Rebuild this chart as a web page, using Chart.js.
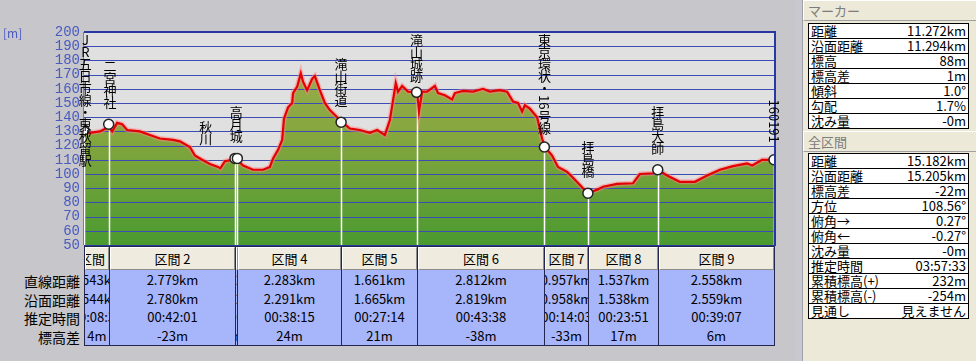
<!DOCTYPE html>
<html lang="ja">
<head>
<meta charset="utf-8">
<title>標高断面図</title>
<script src="https://cdn.jsdelivr.net/npm/chart.js@4.4.1/dist/chart.umd.min.js"></script>
<style>
  body { margin: 0; width: 976px; height: 361px; overflow: hidden; position: relative;
         background: #c6c6cb; font-family: "Noto Sans CJK JP", sans-serif; color: #000; }
  #profile { position: absolute; left: 0; top: 0; }
  #unit { position: absolute; left: 3px; top: 24px; font-size: 12px; color: #4a5abf; }
  #table { position: absolute; left: 84px; top: 246px; width: 691px; height: 100px; background: #23264f; }
  .hd, .cell { position: absolute; box-sizing: border-box; overflow: hidden; white-space: nowrap; }
  .hd { top: 1px; height: 23px; background: #efebdf; border-top: 1px solid #fff; border-left: 1px solid #fff;
        border-right: 1px solid #8c8c8c; border-bottom: 1px solid #8c8c8c; font-size: 13px; line-height: 21px;
        display: flex; justify-content: center; }
  .cell { top: 24px; height: 75px; background: #a7b5fa; font-size: 13px; padding-top: 1px; }
  .cell div { height: 18.5px; line-height: 18.5px; display: flex; justify-content: center; white-space: nowrap; }
  .rowname { position: absolute; right: 896px; font-size: 14px; height: 18px; line-height: 18px; white-space: nowrap; }
  #side { position: absolute; left: 795px; top: 0; width: 181px; height: 361px; background: #ece9d8; }
  #strip { position: absolute; left: 0; top: 0; width: 7px; height: 361px; background: #c8c8d0; border-right: 1px solid #a0a0a8; }
  .ptitle { position: absolute; left: 8px; width: 173px; height: 21px; box-sizing: border-box; padding-left: 4px;
            border-top: 1px solid #fff; border-left: 1px solid #fff; border-bottom: 1px solid #a0a0a0;
            color: #7c7c7c; font-size: 13px; line-height: 19px; }
  .pbox { position: absolute; left: 13px; width: 161px; background: #fff; border: 1px solid #000; border-bottom: 0; box-sizing: border-box; }
  .prow { height: 15px; line-height: 14px; font-size: 13px; display: flex; justify-content: space-between;
          padding: 0 2px 0 2px; border-bottom: 1px solid #000; box-sizing: border-box; white-space: nowrap; }
</style>
</head>
<body>
<canvas id="profile" width="795" height="260"></canvas>
<div id="unit">[m]</div>
<div id="table"></div>
<div id="rows"></div>
<div id="side"><div id="strip"></div></div>
<script>
// elevation profile (km along route, metres)
const distKm = [0, 0.13, 0.35, 0.48, 0.55, 0.62, 0.73, 0.84, 0.95, 1.23,
  1.45, 1.67, 1.96, 2.11, 2.33, 2.44, 2.60, 2.77, 2.95, 3.00,
  3.10, 3.26, 3.37, 3.50, 3.72, 3.94, 4.09, 4.16, 4.27, 4.36,
  4.40, 4.49, 4.58, 4.60, 4.69, 4.77, 4.82, 4.91, 5.02, 5.08,
  5.19, 5.30, 5.41, 5.57, 5.70, 5.85, 6.07, 6.29, 6.45, 6.62,
  6.73, 6.80, 6.86, 6.91, 7.00, 7.13, 7.33, 7.37, 7.44, 7.55,
  7.72, 7.79, 7.94, 8.10, 8.16, 8.34, 8.56, 8.78, 8.93, 9.15,
  9.31, 9.44, 9.55, 9.64, 9.70, 9.81, 9.97, 10.08, 10.14, 10.30,
  10.43, 10.63, 10.74, 10.98, 11.09, 11.29, 11.42, 11.73, 12.08, 12.23,
  12.52, 12.63, 12.83, 13.11, 13.44, 13.71, 13.99, 14.28, 14.59, 14.70,
  14.92, 15.05, 15.18];
const elevM = [129, 129, 130, 132, 133, 130, 136, 135, 131, 130,
  127.5, 125, 124, 123, 119, 113, 110, 107, 105, 104,
  109, 110, 110, 106, 103, 103, 105, 111, 117, 124,
  139, 147, 150, 157, 161.5, 171, 165, 159, 167, 169,
  159, 150, 145, 140, 136, 132, 131, 129, 131, 127.5,
  138, 152, 164, 158, 162, 158, 157.5, 144, 158, 158,
  162, 157, 155.5, 152.5, 157, 158.5, 158, 160, 158, 159,
  158, 151, 150, 144, 148.5, 146, 140, 125, 119, 113,
  105, 101.5, 98, 90, 86.5, 89, 91, 93, 93.5, 100,
  100.5, 103, 99, 94.5, 94.5, 99, 103, 105.5, 107.5, 106,
  110, 110, 110];

// waypoint markers
const markerKm = [0, 0.543, 3.322, 3.374, 5.657, 7.318, 10.130, 11.087, 12.624, 15.182];
const markerElev = [131, 135, 111, 111, 136.5, 157.5, 119, 86.5, 103, 110];

// vertical place names
const labelNames = ['JR五日市線・東秋留駅', '二宮神社', '秋川', '高月城', '滝山街道', '滝山城跡',
  '東京環状・16号線', '拝島橋', '拝島大師', '160191'];
const labelKm = [0.03, 0.57, 2.68, 3.35, 5.657, 7.318, 10.13, 11.087, 12.624, 15.182];
const labelElev = [131, 135, 109, 111, 136.5, 157.5, 119, 86.5, 103, 110];

const yMin = 50, yMax = 200, yStep = 10;
const totalKm = 15.182;

// section table
const sectionNames = ['区間 1', '区間 2', '区間 3', '区間 4', '区間 5', '区間 6', '区間 7', '区間 8', '区間 9'];
const sectionKm = [0.543, 2.779, 0.052, 2.283, 1.661, 2.812, 0.957, 1.537, 2.558];
const straightDist = ['0.543km', '2.779km', '0.052km', '2.283km', '1.661km', '2.812km', '0.957km', '1.537km', '2.558km'];
const surfaceDist = ['0.544km', '2.780km', '0.052km', '2.291km', '1.665km', '2.819km', '0.958km', '1.538km', '2.559km'];
const estTime = ['00:08:39', '00:42:01', '00:00:45', '00:38:15', '00:27:14', '00:43:38', '00:14:03', '00:23:51', '00:39:07'];
const elevDiff = ['4m', '-23m', '0m', '24m', '21m', '-38m', '-33m', '17m', '6m'];
const rowNames = ['直線距離', '沿面距離', '推定時間', '標高差'];

// side panel
const markerInfoNames = ['距離', '沿面距離', '標高', '標高差', '傾斜', '勾配', '沈み量'];
const markerInfoValues = ['11.272km', '11.294km', '88m', '1m', '1.0°', '1.7%', '-0m'];
const totalInfoNames = ['距離', '沿面距離', '標高差', '方位', '俯角→', '俯角←', '沈み量', '推定時間',
  '累積標高(+)', '累積標高(-)', '見通し'];
const totalInfoValues = ['15.182km', '15.205km', '-22m', '108.56°', '0.27°', '-0.27°', '-0m', '03:57:33',
  '232m', '-254m', '見えません'];

const profilePts = distKm.map((d, i) => ({ x: d, y: elevM[i] }));
const markerPts = markerKm.map((d, i) => ({ x: d, y: markerElev[i] }));

const profileDecor = {
  id: 'profileDecor',
  beforeDraw(chart) {
    const { ctx, chartArea: a } = chart;
    ctx.save();
    ctx.fillStyle = '#e0e0e0';
    ctx.fillRect(a.left, a.top, a.right - a.left, a.bottom - a.top);
    ctx.restore();
  },
  afterDatasetDraw(chart, args) {
    if (args.index !== 3) return;
    const { ctx, chartArea: a, scales: { x, y } } = chart;
    ctx.save();
    // grid goes over the green fill
    ctx.strokeStyle = '#3c4cb4';
    ctx.lineWidth = 1;
    for (let v = yMin; v <= yMax; v += yStep) {
      const py = Math.round(y.getPixelForValue(v)) + 0.5;
      ctx.beginPath();
      ctx.moveTo(a.left, py);
      ctx.lineTo(a.right, py);
      ctx.stroke();
    }
    ctx.strokeStyle = '#ffffff';
    ctx.lineWidth = 1.5;
    markerKm.forEach((km, i) => {
      const px = Math.round(x.getPixelForValue(km)) + 0.5;
      ctx.beginPath();
      ctx.moveTo(px, y.getPixelForValue(markerElev[i]));
      ctx.lineTo(px, a.bottom);
      ctx.stroke();
    });
    ctx.restore();
  },
  afterDraw(chart) {
    const { ctx, chartArea: a, scales: { x, y } } = chart;
    ctx.save();
    ctx.fillStyle = '#2838a0';
    ctx.fillRect(a.left, a.top - 1, a.right - a.left + 2, 2);
    ctx.fillRect(a.right, a.top - 1, 2, a.bottom - a.top + 1);
    ctx.fillRect(a.left, a.bottom, a.right - a.left + 2, 1);
    ctx.fillStyle = '#808080';
    ctx.fillRect(a.left - 1, a.top, 1, a.bottom - a.top);

    ctx.fillStyle = '#000';
    ctx.font = '13px "Noto Sans CJK JP"';
    labelNames.forEach((name, i) => {
      const px = x.getPixelForValue(labelKm[i]);
      const dotY = y.getPixelForValue(labelElev[i]);
      const toks = name.match(/[0-9]+|./gu);
      const sizes = toks.map(t => /^[0-9]+$/.test(t) ? ctx.measureText(t).width + 2 : 12);
      const total = sizes.reduce((s, v) => s + v, 0);
      let cur = Math.max(a.top + 2, dotY - 16 - total);
      toks.forEach((t, k) => {
        ctx.save();
        ctx.translate(px, cur + sizes[k] / 2);
        if (/^[0-9]+$/.test(t)) ctx.rotate(Math.PI / 2);
        ctx.textAlign = 'center';
        ctx.textBaseline = 'middle';
        ctx.fillText(t, 0, 0);
        ctx.restore();
        cur += sizes[k];
      });
    });
    ctx.restore();
  }
};

const chart = new Chart(document.getElementById('profile').getContext('2d'), {
  type: 'line',
  data: {
    datasets: [
      {
        label: 'markers', data: markerPts, showLine: false,
        pointRadius: 5, pointBackgroundColor: '#ffffff', pointBorderColor: '#222', pointBorderWidth: 1.5
      },
      { label: 'elevation', data: profilePts, borderColor: '#e40000', borderWidth: 2.2, pointRadius: 0, fill: false },
      { label: 'halo', data: profilePts, borderColor: 'rgba(255,130,130,0.5)', borderWidth: 5, pointRadius: 0, fill: false },
      {
        label: 'area', data: profilePts, borderWidth: 0, pointRadius: 0, fill: 'start',
        backgroundColor: (c) => {
          const a = c.chart.chartArea;
          if (!a) return '#7aa040';
          const g = c.chart.ctx.createLinearGradient(0, a.top, 0, a.bottom);
          g.addColorStop(0, '#a2b052');
          g.addColorStop(0.5, '#84a63e');
          g.addColorStop(1, '#4a9a30');
          return g;
        }
      }
    ]
  },
  options: {
    responsive: false,
    animation: false,
    layout: { padding: { top: 32, right: 21, bottom: 15, left: 0 } },
    plugins: { legend: { display: false }, tooltip: { enabled: false } },
    scales: {
      x: { type: 'linear', min: 0, max: totalKm, display: false },
      y: {
        min: yMin, max: yMax,
        ticks: { stepSize: yStep, autoSkip: false, color: '#4a5abf', padding: 4, font: { family: 'Liberation Mono', size: 14 } },
        grid: { display: false, drawTicks: false },
        border: { display: false },
        afterFit: (s) => { s.width = 84; s.paddingTop = 0; s.paddingBottom = 0; }
      }
    }
  },
  plugins: [profileDecor]
});

// section table, columns placed with the chart's x scale
const xs = chart.scales.x;
const table = document.getElementById('table');
const left0 = xs.getPixelForValue(0);
let cum = 0;
sectionNames.forEach((name, i) => {
  const x0 = Math.round(xs.getPixelForValue(cum) - left0);
  cum += sectionKm[i];
  const x1 = Math.round(xs.getPixelForValue(cum) - left0);
  const w = Math.max(x1 - x0 - 1, 0);
  const hd = document.createElement('div');
  hd.className = 'hd';
  hd.style.left = (x0 + 1) + 'px';
  hd.style.width = w + 'px';
  hd.innerHTML = '<span>' + name + '</span>';
  table.appendChild(hd);
  const cell = document.createElement('div');
  cell.className = 'cell';
  cell.style.left = (x0 + 1) + 'px';
  cell.style.width = w + 'px';
  cell.innerHTML = [straightDist[i], surfaceDist[i], estTime[i], elevDiff[i]]
    .map(t => '<div><span>' + t + '</span></div>').join('');
  table.appendChild(cell);
});

const rows = document.getElementById('rows');
rowNames.forEach((n, i) => {
  const d = document.createElement('div');
  d.className = 'rowname';
  d.style.top = (272 + i * 18.5) + 'px';
  d.textContent = n;
  rows.appendChild(d);
});

// side panel
const side = document.getElementById('side');
function addPanel(title, top, boxTop, names, values) {
  const t = document.createElement('div');
  t.className = 'ptitle';
  t.style.top = top + 'px';
  t.textContent = title;
  side.appendChild(t);
  const box = document.createElement('div');
  box.className = 'pbox';
  box.style.top = boxTop + 'px';
  box.innerHTML = names.map((n, i) => '<div class="prow"><span>' + n + '</span><span>' + values[i] + '</span></div>').join('');
  side.appendChild(box);
}
addPanel('マーカー', 0, 23, markerInfoNames, markerInfoValues);
addPanel('全区間', 131, 153, totalInfoNames, totalInfoValues);
</script>
</body>
</html>
